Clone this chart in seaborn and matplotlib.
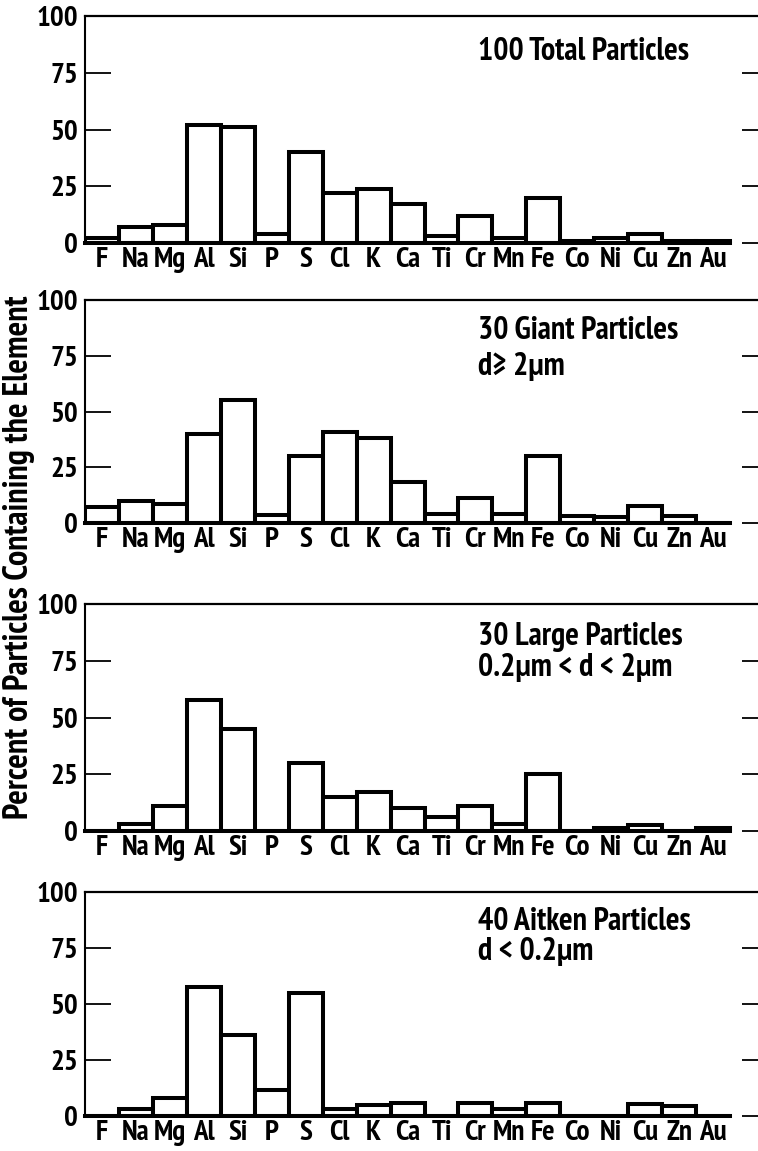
import numpy as np
import pandas as pd
import matplotlib
matplotlib.use("Agg")
import matplotlib.pyplot as plt
from matplotlib import font_manager as fm
import seaborn as sns

#------data--------------------

elements = ["F", "Na", "Mg", "Al", "Si", "P", "S", "Cl", "K", "Ca",
            "Ti", "Cr", "Mn", "Fe", "Co", "Ni", "Cu", "Zn", "Au"]

total_100 = [2, 7, 8, 52, 51, 4, 40, 22, 24, 17, 3, 12, 2, 20, 1, 2, 4, 1, 1]
giant_30 = [7, 10, 8.5, 40, 55, 3.5, 30, 41, 38, 18.5, 4, 11, 4, 30, 3, 2.5, 7.5, 3, 0]
large_30 = [0, 3, 11, 57.5, 45, 0, 30, 15, 17, 10, 6, 11, 3, 25, 0, 1.3, 2.7, 0, 1.5]
aitken_40 = [0, 3, 8, 57.5, 36, 11.5, 55, 3, 5, 6, 0, 6, 3, 6, 0, 0, 5.5, 4.5, 0]

series = [total_100, giant_30, large_30, aitken_40]
labels = ["100 Total Particles",
          "30 Giant Particles\nd\u2265 2\u03bcm",
          "30 Large Particles\n0.2\u03bcm < d < 2\u03bcm",
          "40 Aitken Particles\nd < 0.2\u03bcm"]

yticks = [0, 25, 50, 75, 100]

#------font: look for a bold condensed face (the scan uses Helvetica Cond.)---

def wnum(w):
    if isinstance(w, str):
        return fm.weight_dict.get(w, 400)
    return int(w)

def pick_condensed():
    best = None
    for f in fm.fontManager.ttflist:
        nm = f.name.lower()
        st = str(f.stretch).lower()
        cond = ("narrow" in nm or "condensed" in nm or "cond" in st)
        if not cond:
            continue
        w = wnum(f.weight)
        score = 0
        if 600 <= w <= 800:
            score += 10
        if "narrow" in nm:
            score += 3
        if "roboto" in nm:
            score += 2
        if "light" in nm or "thin" in nm or "black" in nm:
            score -= 4
        if "extra" in st or "ultra" in st:
            score -= 2
        if best is None or score > best[0]:
            best = (score, f.name, f.stretch, w, f.fname)
    return best

found = pick_condensed()
if found and found[0] >= 10:
    FAM = [found[1], "DejaVu Sans"]
    STRETCH = found[2]
    WEIGHT = found[3]
else:
    FAM = ["Liberation Sans", "DejaVu Sans"]
    STRETCH = "normal"
    WEIGHT = "bold"
print("font:", found)

#------layout (pixels of the 758x1151 picture)-----

W, H = 758, 1151
panels = [(16, 243), (300, 523), (604, 831), (892, 1116)]
label_y = [(0.84, None), (0.86, 0.70), (0.855, 0.718), (0.866, 0.732)]

sns.set_theme(style="white")
plt.rcParams["font.family"] = FAM
plt.rcParams["font.stretch"] = STRETCH
plt.rcParams["font.weight"] = WEIGHT
plt.rcParams["text.color"] = "black"
plt.rcParams["xtick.color"] = "black"
plt.rcParams["ytick.color"] = "black"

fs = 21
fig = plt.figure(figsize=(W / 100, H / 100), dpi=100)

x0 = 85
for i, (top, bot) in enumerate(panels):
    ax = fig.add_axes([x0 / W, 1 - bot / H, (W - x0) / W, (bot - top) / H])
    df = pd.DataFrame({"element": elements, "pct": series[i]})
    sns.barplot(data=df, x="element", y="pct", ax=ax, color="white",
                saturation=1, edgecolor="black", linewidth=2.9, width=1.0)

    ax.set_ylim(0, 100)
    ax.set_xlim(-0.5, -0.5 + (W - x0) / 33.95)
    ax.set_yticks(yticks)
    ax.set_yticklabels([str(t) for t in yticks], fontsize=fs, fontweight=WEIGHT)
    ax.set_xticks(range(len(elements)))
    ax.set_xticklabels(elements, fontsize=fs, fontweight=WEIGHT)
    ax.set_xlabel("")
    ax.set_ylabel("")

    ax.tick_params(axis="x", length=0, pad=3)
    ax.tick_params(axis="y", direction="in", length=19, width=1.3,
                   right=True, left=True, pad=5)
    for t in ax.yaxis.get_major_ticks():
        t.tick2line.set_markersize(11.5)

    ax.spines["right"].set_visible(False)
    ax.spines["left"].set_linewidth(1.5)
    ax.spines["top"].set_linewidth(1.6)
    ax.spines["bottom"].set_linewidth(2.9)
    ax.spines["bottom"].set_bounds(-0.5, 18.5)
    for s in ax.spines.values():
        s.set_color("black")
    ax.patch.set_alpha(0)

    lines = labels[i].split("\n")
    ax.text(0.584, label_y[i][0], lines[0], transform=ax.transAxes,
            fontsize=23, fontweight=WEIGHT, va="center", ha="left")
    if len(lines) > 1:
        ax.text(0.584, label_y[i][1], lines[1], transform=ax.transAxes,
                fontsize=23, fontweight=WEIGHT, va="center", ha="left")

fig.text(19 / W, 1 - 557 / H, "Percent of Particles Containing the Element",
         rotation=90, ha="center", va="center", fontsize=24.5, fontweight=WEIGHT)

fig.savefig("out.png", dpi=100)
